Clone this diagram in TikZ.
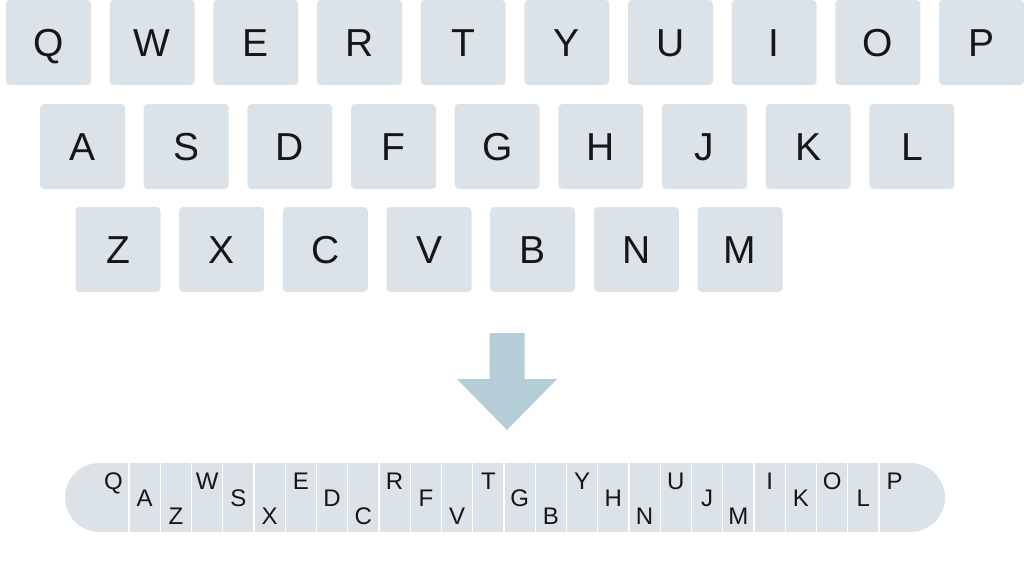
\documentclass[tikz,border=0pt]{standalone}
\usepackage{fontspec}
\setmainfont{Liberation Sans}
\definecolor{keyfill}{RGB}{220,227,232}
\definecolor{arrowfill}{RGB}{180,205,214}
\definecolor{ink}{RGB}{22,22,22}
\begin{document}
\begin{tikzpicture}[x=1pt,y=-1pt,
  key/.style={fill=keyfill, draw=none, rounded corners=4pt,
    minimum width=85pt, minimum height=85pt, inner sep=0pt,
    text=ink, font=\fontsize{39}{39}\selectfont,
    text height=28.4pt, text depth=0pt},
  strip/.style={fill=keyfill, draw=none, rounded corners=34.5pt,
    minimum width=880pt, minimum height=69pt, inner sep=0pt},
  sep/.style={draw=white, line width=1.2pt},
  small/.style={inner sep=0pt, text=ink, font=\fontsize{24}{24}\selectfont,
    text height=17.3pt, text depth=0pt},
  bigarrow/.style={fill=arrowfill, draw=none}
]
\useasboundingbox (0,0) rectangle (1024,581);

% keyboard rows
\foreach \l [count=\i from 0] in {Q,W,E,R,T,Y,U,I,O,P}
  \node[key] (key\l) at ({48.5+103.67*\i},42.5) {\l};
\foreach \l [count=\i from 0] in {A,S,D,F,G,H,J,K,L}
  \node[key] (key\l) at ({82.5+103.67*\i},146.5) {\l};
\foreach \l [count=\i from 0] in {Z,X,C,V,B,N,M}
  \node[key] (key\l) at ({118+103.67*\i},249.5) {\l};

% arrow
\fill[bigarrow] (489.5,333) -- (524.5,333) -- (524.5,379) -- (557,379)
  -- (507,430) -- (457,379) -- (489.5,379) -- cycle;

% strip
\node[strip] (strip) at (505,497.5) {};
\foreach \i in {0,...,24}
  \draw[sep] ({129+31.25*\i},463) -- ({129+31.25*\i},532);

% strip letters
\foreach \l/\lev [count=\i from 0] in {Q/0,A/1,Z/2,W/0,S/1,X/2,E/0,D/1,C/2,R/0,F/1,V/2,T/0,G/1,B/2,Y/0,H/1,N/2,U/0,J/1,M/2,I/0,K/1,O/0,L/1,P/0}
  \node[small] (s\l) at ({113.4+31.25*\i},{480.4+17.5*\lev}) {\l};
\end{tikzpicture}
\end{document}
